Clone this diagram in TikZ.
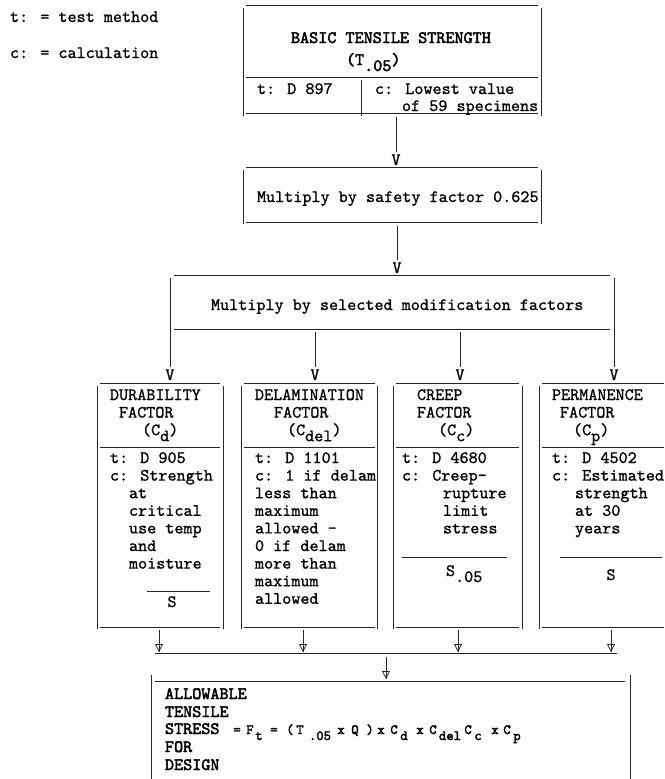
\documentclass[tikz,border=0pt]{standalone}
\usepackage{fontspec}
\usetikzlibrary{arrows.meta}
\newfontfamily\tyf{lmmono10-regular}[Extension=.otf,FakeBold=1]
\newfontfamily\tyfb{lmmono10-regular}[Extension=.otf,FakeBold=2.5]
\newcommand\twf{\tyf\fontsize{17.3}{17.6}\selectfont}
\newcommand\twfb{\tyfb\fontsize{17.3}{17.6}\selectfont}
\newcommand\eqf{\tyfb\fontsize{14}{16}\selectfont}
\newcommand\sbx[1]{\raisebox{-6pt}{#1}}
\begin{document}
\begin{tikzpicture}[x=1pt,y=-1pt,
  txt/.style={inner sep=0pt,outer sep=0pt,font=\twf,anchor=base west,text=black},
  hd/.style={txt,font=\twfb},
  eqs/.style={txt,font=\eqf,anchor=base},
  vmark/.style={txt,anchor=base},
  ln/.style={line width=0.9pt,draw=black!85},
  con/.style={ln,shorten >=2pt},
  arr/.style={ln,-{Triangle[open,length=8pt,width=8pt,line width=0.8pt]}}]
\useasboundingbox (0,0) rectangle (664,779);

% legend
\node[txt] (leg1) at (10,22) {t: = test method};
\node[txt] (leg2) at (10,58) {c: = calculation};

% top box
\draw[ln] (246,5) -- (538,5);
\draw[ln] (243,8) -- (243,116);
\draw[ln] (541,8) -- (541,116);
\draw[ln] (246,77) -- (538,77);
\draw[ln] (361,80) -- (361,116);
\draw[ln] (246,113) -- (538,113);
\node[hd] (bts) at (291,43) {BASIC TENSILE STRENGTH};
\node[hd] (btsym) at (346,65) {(T\sbx{.05})};
\node[txt] (t1) at (257,94) {t: D 897};
\node[txt] (c1a) at (375,94) {c: Lowest value};
\node[txt] (c1b) at (402,111) {of 59 specimens};

% arrow 1
\coordinate (a1) at (396,117);
\node[vmark] (v1) at (396,165) {V};
\draw[con] (a1) -- (v1.north);

% box 2
\draw[ln] (246,167) -- (538,167);
\draw[ln] (243,170) -- (243,224);
\draw[ln] (541,170) -- (541,224);
\draw[ln] (246,222) -- (538,222);
\node[txt] (saf) at (257,202) {Multiply by safety factor 0.625};

% arrow 2
\coordinate (a2) at (397,226);
\node[vmark] (v2) at (397,273) {V};
\draw[con] (a2) -- (v2.north);

% box 3
\draw[ln] (174,275) -- (610,275);
\draw[ln] (174,329) -- (610,329);
\node[txt] (mod) at (211,310) {Multiply by selected modification factors};
\coordinate (m1) at (170,278);
\coordinate (m2) at (315,332);
\coordinate (m3) at (460,332);
\coordinate (m4) at (614,278);
\node[vmark] (vA) at (170,380) {V};
\node[vmark] (vB) at (315,380) {V};
\node[vmark] (vC) at (460,380) {V};
\node[vmark] (vD) at (614,380) {V};
\draw[con] (m1) -- (vA.north);
\draw[con] (m2) -- (vB.north);
\draw[con] (m3) -- (vC.north);
\draw[con] (m4) -- (vD.north);

% four factor boxes
\foreach \L in {97,223,241,377,393,522,539}{\draw[ln] (\L,386) -- (\L,629);}
\foreach \a/\b in {100/220,244/375,396/519,542/664}{
  \draw[ln] (\a,383) -- (\b,383);
  \draw[ln] (\a,447) -- (\b,447);
  \draw[ln] (\a,627) -- (\b,627);}

% box 1: durability
\node[txt] (d1) at (110,400) {DURABILITY};
\node[txt] (d2) at (119,417.6) {FACTOR};
\node[txt] (d3) at (142,435.2) {(C\sbx{d})};
\node[txt] (d4) at (110,463) {t: D 905};
\node[txt] (d5) at (110,480.6) {c: Strength};
\node[txt] (d6) at (129,498.2) {at};
\node[txt] (d7) at (129,515.8) {critical};
\node[txt] (d8) at (129,533.4) {use temp};
\node[txt] (d9) at (129,551) {and};
\node[txt] (d10) at (129,568.6) {moisture};
\draw[ln] (147,591) -- (210,591);
\node[vmark] (d11) at (172,607) {S};

% box 2: delamination
\node[txt] (e1) at (255,400) {DELAMINATION};
\node[txt] (e2) at (274,417.6) {FACTOR};
\node[txt] (e3) at (287,435.2) {(C\sbx{del})};
\node[txt] (e4) at (255,463) {t: D 1101};
\node[txt] (e5) at (255,480.6) {c: 1 if delam};
\node[txt] (e6) at (255,498.2) {less than};
\node[txt] (e7) at (255,515.8) {maximum};
\node[txt] (e8) at (255,533.4) {allowed -};
\node[txt] (e9) at (255,551) {0 if delam};
\node[txt] (e10) at (255,568.6) {more than};
\node[txt] (e11) at (255,586.2) {maximum};
\node[txt] (e12) at (255,603.8) {allowed};

% box 3: creep
\node[txt] (f1) at (417,400) {CREEP};
\node[txt] (f2) at (417,417.6) {FACTOR};
\node[txt] (f3) at (438,435.2) {(C\sbx{c})};
\node[txt] (f4) at (402,463) {t: D 4680};
\node[txt] (f5) at (402,480.6) {c: Creep-};
\node[txt] (f6) at (443,498.2) {rupture};
\node[txt] (f7) at (443,515.8) {limit};
\node[txt] (f8) at (443,533.4) {stress};
\draw[ln] (402,557) -- (507,557);
\node[txt] (f9) at (446,576) {S\sbx{.05}};

% box 4: permanence
\node[txt] (g1) at (552,400) {PERMANENCE};
\node[txt] (g2) at (560,417.6) {FACTOR};
\node[txt] (g3) at (573,435.2) {(C\sbx{p})};
\node[txt] (g4) at (552,463) {t: D 4502};
\node[txt] (g5) at (552,480.6) {c: Estimated};
\node[txt] (g6) at (575,498.2) {strength};
\node[txt] (g7) at (575,515.8) {at 30};
\node[txt] (g8) at (575,533.4) {years};
\draw[ln] (560,557) -- (662,557);
\node[vmark] (g9) at (611,580) {S};

% bottom arrows
\foreach \x/\n in {159/1,303/2,458/3,611/4}{
  \coordinate (bs\n) at (\x,630);
  \coordinate (be\n) at (\x,652);
  \draw[arr] (bs\n) -- (be\n);
  \draw[ln] (bs\n) -- (be\n);}
\coordinate (hl) at (155,653);
\coordinate (hr) at (617,653);
\draw[ln] (hl) -- (hr);
\coordinate (cs) at (386,657);
\coordinate (ce) at (386,679);
\draw[arr] (cs) -- (ce);
\draw[ln] (cs) -- (ce);

% bottom box
\draw[ln] (155,681) -- (625,681);
\draw[ln] (151,675) -- (151,779);
\draw[ln] (630,675) -- (630,779);
\node[hd] (h1) at (165,699) {ALLOWABLE};
\node[hd] (h2) at (165,717) {TENSILE};
\node[hd] (h3) at (165,734) {STRESS};
\node[hd] (h4) at (165,752) {FOR};
\node[hd] (h5) at (165,770) {DESIGN};
\foreach \x/\y/\s [count=\i] in {237/734/=, 250/734/F, 259/740/t, 274/734/=,
  290/734/(, 300/734/T, 320/740/.05, 341/734/x, 355/734/Q, 370/734/),
  381/734/x, 394/734/C, 404/740/d, 420/734/x, 433/734/C, 450/740/del,
  468/734/C, 478/740/c, 495/734/x, 507/734/C, 517/740/p}{
  \node[eqs] (eq\i) at (\x,\y) {\s};}
\end{tikzpicture}
\end{document}
